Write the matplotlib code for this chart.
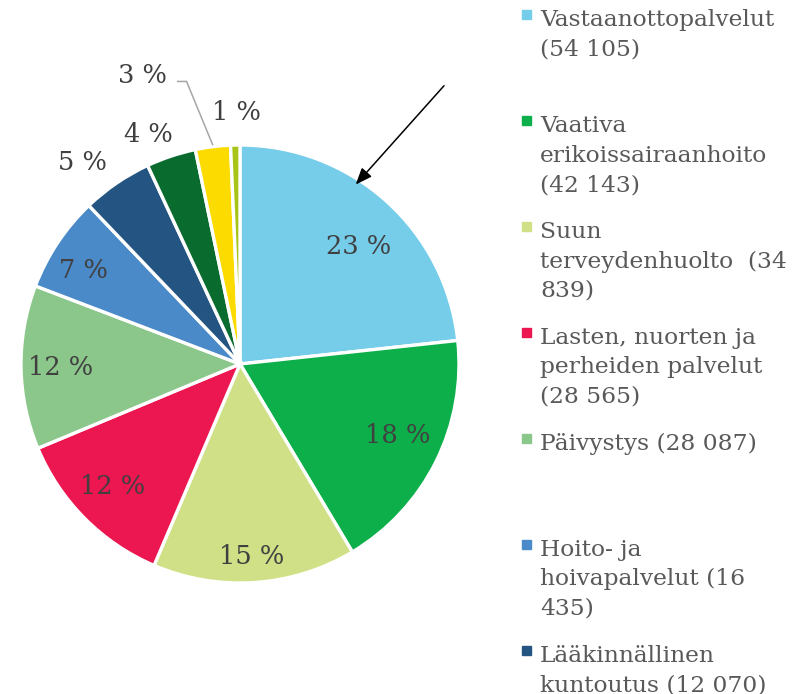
import numpy as np
import matplotlib
matplotlib.use("Agg")
import matplotlib.pyplot as plt

# Data (values in the legend, last three slices estimated)
legend_labels = [
    "Vastaanottopalvelut\n(54 105)",
    "Vaativa\nerikoissairaanhoito\n(42 143)",
    "Suun\nterveydenhuolto  (34\n839)",
    "Lasten, nuorten ja\nperheiden palvelut\n(28 565)",
    "Päivystys (28 087)",
    "Hoito- ja\nhoivapalvelut (16\n435)",
    "Lääkinnällinen\nkuntoutus (12 070)",
]
values = [54105, 42143, 34839, 28565, 28087, 16435, 12070]
# slices without a visible legend entry (4 %, 3 %, 1 %)
other_values = [8500, 6000, 1600]

colors = ["#75CDE9", "#0DAF4B", "#D0E086", "#EC1651", "#8BC78A",
          "#4A8AC9", "#245582", "#0A6B2F", "#FCDC00", "#A8C416"]

# label placement: radius factor and clockwise angle nudge (degrees)
label_r = [0.76, 0.79, 0.88, 0.81, 0.82, 0.83, 1.17, 1.13, 1.39, 1.15]
label_nudge = [3.3, -2.2, 0.3, 0.9, -0.4, -2.8, -3.7, -3.3, -11.5, 0.5]

W, H = 796, 694
fig = plt.figure(figsize=(W / 100, H / 100), dpi=100)
serif = ["DejaVu Serif"]

# pie axes: centre (240, 364) px, radius 219 px
cx, cy, r = 240, 364, 219
ax = fig.add_axes([(cx - r) / W, (H - cy - r) / H, 2 * r / W, 2 * r / H])
all_values = values + other_values
wedges, _ = ax.pie(all_values, colors=colors, startangle=90, counterclock=False,
                   radius=1.0, wedgeprops=dict(edgecolor="white", linewidth=2.4))
ax.set_xlim(-1, 1)
ax.set_ylim(-1, 1)
ax.set_aspect("equal")
ax.axis("off")

total = sum(all_values)
for i, w in enumerate(wedges):
    mid = (w.theta1 + w.theta2) / 2
    ang = np.deg2rad(mid - label_nudge[i])
    tx, ty = label_r[i] * np.cos(ang), label_r[i] * np.sin(ang)
    pct = round(all_values[i] / total * 100)
    ax.text(tx, ty, f"{pct} %", ha="center", va="center", fontsize=18.5,
            color="#404040", family=serif, clip_on=False)
    if label_r[i] > 1.3:
        m = np.deg2rad(mid)
        ax.plot([1.01 * np.cos(m), tx + 0.2, tx + 0.16],
                [1.01 * np.sin(m), ty - 0.027, ty - 0.027],
                color="#A6A6A6", lw=1.1, clip_on=False)

# arrow pointing at the first slice
ax.annotate("", xy=(0.52, 0.81), xytext=(0.94, 1.28),
            arrowprops=dict(arrowstyle="-|>,head_length=1.0,head_width=0.4",
                            color="black", lw=1.1),
            annotation_clip=False)

# legend, drawn line by line
for i, label in enumerate(legend_labels):
    base = 26 + 106 * i
    fig.add_artist(plt.Rectangle((522 / W, (H - base + 7) / H), 9 / W, 9 / H,
                                 transform=fig.transFigure, color=colors[i]))
    for j, line in enumerate(label.split("\n")):
        fig.text(540 / W, (H - base - 29.5 * j) / H, line, ha="left",
                 va="baseline", fontsize=16.8, color="#595959", family=serif)

fig.savefig("out.png", dpi=100, facecolor="white")
